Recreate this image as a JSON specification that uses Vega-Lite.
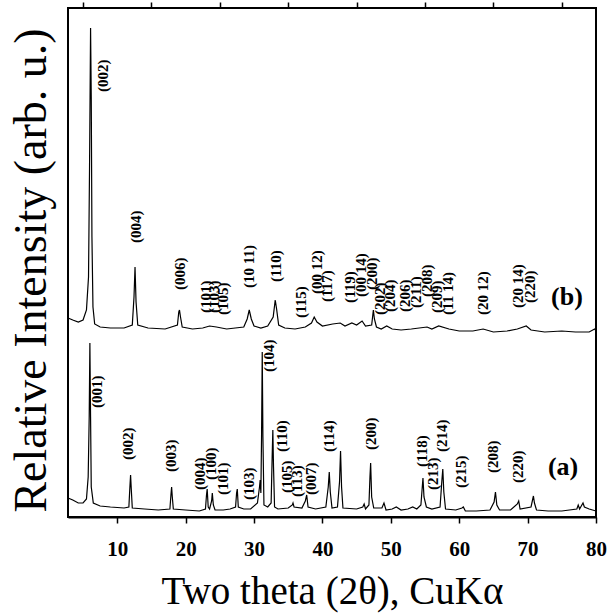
{
  "$schema": "https://vega.github.io/schema/vega-lite/v6.json",
  "width": 528,
  "height": 509,
  "autosize": "none",
  "padding": {"left": 68, "top": 8, "right": 14, "bottom": 97},
  "background": "white",
  "config": {
    "view": {"stroke": "black", "strokeWidth": 2},
    "font": "Liberation Serif"
  },
  "datasets": {
    "traces": [
      {"s": "a", "x": 2.8, "I": 19}, {"s": "a", "x": 3.5, "I": 17}, {"s": "a", "x": 4.3, "I": 14}, {"s": "a", "x": 5.0, "I": 14}, {"s": "a", "x": 5.5, "I": 18}, {"s": "a", "x": 5.75, "I": 40}, {"s": "a", "x": 5.9, "I": 100}, {"s": "a", "x": 6.0, "I": 174}, {"s": "a", "x": 6.1, "I": 100}, {"s": "a", "x": 6.2, "I": 30}, {"s": "a", "x": 6.5, "I": 14}, {"s": "a", "x": 7.5, "I": 11}, {"s": "a", "x": 9, "I": 10}, {"s": "a", "x": 11, "I": 9}, {"s": "a", "x": 11.7, "I": 10}, {"s": "a", "x": 11.85, "I": 30}, {"s": "a", "x": 11.95, "I": 42}, {"s": "a", "x": 12.05, "I": 28}, {"s": "a", "x": 12.2, "I": 9}, {"s": "a", "x": 14, "I": 8}, {"s": "a", "x": 16, "I": 7}, {"s": "a", "x": 17.7, "I": 8}, {"s": "a", "x": 17.85, "I": 22}, {"s": "a", "x": 17.95, "I": 30}, {"s": "a", "x": 18.05, "I": 20}, {"s": "a", "x": 18.2, "I": 8}, {"s": "a", "x": 20, "I": 7}, {"s": "a", "x": 22, "I": 6}, {"s": "a", "x": 22.9, "I": 8}, {"s": "a", "x": 23.05, "I": 22}, {"s": "a", "x": 23.15, "I": 28}, {"s": "a", "x": 23.3, "I": 10}, {"s": "a", "x": 23.5, "I": 8}, {"s": "a", "x": 23.8, "I": 16}, {"s": "a", "x": 23.9, "I": 24}, {"s": "a", "x": 24.05, "I": 12}, {"s": "a", "x": 24.3, "I": 7}, {"s": "a", "x": 25.5, "I": 7}, {"s": "a", "x": 26.5, "I": 8}, {"s": "a", "x": 27.3, "I": 10}, {"s": "a", "x": 27.45, "I": 24}, {"s": "a", "x": 27.55, "I": 28}, {"s": "a", "x": 27.7, "I": 10}, {"s": "a", "x": 28.5, "I": 8}, {"s": "a", "x": 29.5, "I": 8}, {"s": "a", "x": 30.5, "I": 14}, {"s": "a", "x": 30.8, "I": 30}, {"s": "a", "x": 30.9, "I": 37}, {"s": "a", "x": 31.0, "I": 24}, {"s": "a", "x": 31.1, "I": 80}, {"s": "a", "x": 31.2, "I": 165}, {"s": "a", "x": 31.3, "I": 80}, {"s": "a", "x": 31.45, "I": 12}, {"s": "a", "x": 32.0, "I": 10}, {"s": "a", "x": 32.5, "I": 14}, {"s": "a", "x": 32.65, "I": 60}, {"s": "a", "x": 32.75, "I": 87}, {"s": "a", "x": 32.85, "I": 50}, {"s": "a", "x": 33.0, "I": 10}, {"s": "a", "x": 33.5, "I": 8}, {"s": "a", "x": 35.0, "I": 9}, {"s": "a", "x": 35.6, "I": 12}, {"s": "a", "x": 35.7, "I": 14}, {"s": "a", "x": 35.85, "I": 10}, {"s": "a", "x": 37.0, "I": 9}, {"s": "a", "x": 37.5, "I": 16}, {"s": "a", "x": 37.7, "I": 22}, {"s": "a", "x": 37.9, "I": 10}, {"s": "a", "x": 39, "I": 8}, {"s": "a", "x": 40.5, "I": 10}, {"s": "a", "x": 40.85, "I": 30}, {"s": "a", "x": 41.0, "I": 45}, {"s": "a", "x": 41.15, "I": 25}, {"s": "a", "x": 41.4, "I": 9}, {"s": "a", "x": 42.2, "I": 10}, {"s": "a", "x": 42.5, "I": 35}, {"s": "a", "x": 42.65, "I": 66}, {"s": "a", "x": 42.8, "I": 30}, {"s": "a", "x": 43.0, "I": 9}, {"s": "a", "x": 45, "I": 8}, {"s": "a", "x": 45.9, "I": 10}, {"s": "a", "x": 46.1, "I": 13}, {"s": "a", "x": 46.3, "I": 8}, {"s": "a", "x": 46.8, "I": 12}, {"s": "a", "x": 46.95, "I": 40}, {"s": "a", "x": 47.05, "I": 54}, {"s": "a", "x": 47.2, "I": 20}, {"s": "a", "x": 47.5, "I": 9}, {"s": "a", "x": 48.7, "I": 9}, {"s": "a", "x": 49.0, "I": 14}, {"s": "a", "x": 49.3, "I": 7}, {"s": "a", "x": 50.2, "I": 8}, {"s": "a", "x": 50.8, "I": 10}, {"s": "a", "x": 51.5, "I": 7}, {"s": "a", "x": 52.5, "I": 8}, {"s": "a", "x": 53.2, "I": 10}, {"s": "a", "x": 53.8, "I": 8}, {"s": "a", "x": 54.4, "I": 12}, {"s": "a", "x": 54.6, "I": 30}, {"s": "a", "x": 54.7, "I": 39}, {"s": "a", "x": 54.85, "I": 20}, {"s": "a", "x": 55.2, "I": 10}, {"s": "a", "x": 56, "I": 8}, {"s": "a", "x": 57.2, "I": 10}, {"s": "a", "x": 57.45, "I": 35}, {"s": "a", "x": 57.6, "I": 48}, {"s": "a", "x": 57.75, "I": 25}, {"s": "a", "x": 58.0, "I": 8}, {"s": "a", "x": 59.5, "I": 7}, {"s": "a", "x": 60.4, "I": 9}, {"s": "a", "x": 60.6, "I": 10}, {"s": "a", "x": 60.9, "I": 6}, {"s": "a", "x": 62.5, "I": 6}, {"s": "a", "x": 64.5, "I": 7}, {"s": "a", "x": 65.1, "I": 15}, {"s": "a", "x": 65.3, "I": 25}, {"s": "a", "x": 65.5, "I": 12}, {"s": "a", "x": 65.9, "I": 7}, {"s": "a", "x": 67.5, "I": 7}, {"s": "a", "x": 68.5, "I": 13}, {"s": "a", "x": 68.7, "I": 16}, {"s": "a", "x": 68.9, "I": 8}, {"s": "a", "x": 70.5, "I": 10}, {"s": "a", "x": 70.85, "I": 21}, {"s": "a", "x": 71.0, "I": 14}, {"s": "a", "x": 71.3, "I": 7}, {"s": "a", "x": 73, "I": 6}, {"s": "a", "x": 75, "I": 6}, {"s": "a", "x": 77.2, "I": 8}, {"s": "a", "x": 77.4, "I": 12}, {"s": "a", "x": 77.6, "I": 8}, {"s": "a", "x": 78.1, "I": 14}, {"s": "a", "x": 78.3, "I": 10}, {"s": "a", "x": 79, "I": 8}, {"s": "a", "x": 80, "I": 6},
      {"s": "b", "x": 2.8, "I": 199}, {"s": "b", "x": 3.5, "I": 197}, {"s": "b", "x": 4.3, "I": 195}, {"s": "b", "x": 5.0, "I": 197}, {"s": "b", "x": 5.5, "I": 207}, {"s": "b", "x": 5.8, "I": 240}, {"s": "b", "x": 5.95, "I": 350}, {"s": "b", "x": 6.1, "I": 489}, {"s": "b", "x": 6.2, "I": 420}, {"s": "b", "x": 6.3, "I": 280}, {"s": "b", "x": 6.45, "I": 210}, {"s": "b", "x": 6.7, "I": 193}, {"s": "b", "x": 7.5, "I": 190}, {"s": "b", "x": 9, "I": 189}, {"s": "b", "x": 11, "I": 189}, {"s": "b", "x": 12.2, "I": 192}, {"s": "b", "x": 12.45, "I": 220}, {"s": "b", "x": 12.6, "I": 250}, {"s": "b", "x": 12.75, "I": 215}, {"s": "b", "x": 13.0, "I": 192}, {"s": "b", "x": 14.5, "I": 189}, {"s": "b", "x": 17, "I": 188}, {"s": "b", "x": 18.8, "I": 192}, {"s": "b", "x": 19.0, "I": 205}, {"s": "b", "x": 19.1, "I": 207}, {"s": "b", "x": 19.25, "I": 200}, {"s": "b", "x": 19.5, "I": 190}, {"s": "b", "x": 21, "I": 188}, {"s": "b", "x": 22.5, "I": 189}, {"s": "b", "x": 23.5, "I": 191}, {"s": "b", "x": 24.5, "I": 190}, {"s": "b", "x": 26, "I": 188}, {"s": "b", "x": 28.5, "I": 190}, {"s": "b", "x": 29.0, "I": 198}, {"s": "b", "x": 29.3, "I": 207}, {"s": "b", "x": 29.6, "I": 198}, {"s": "b", "x": 30.0, "I": 191}, {"s": "b", "x": 31, "I": 189}, {"s": "b", "x": 32.0, "I": 191}, {"s": "b", "x": 32.8, "I": 200}, {"s": "b", "x": 33.1, "I": 217}, {"s": "b", "x": 33.3, "I": 208}, {"s": "b", "x": 33.6, "I": 192}, {"s": "b", "x": 34.5, "I": 189}, {"s": "b", "x": 36, "I": 188}, {"s": "b", "x": 37.5, "I": 190}, {"s": "b", "x": 38.4, "I": 194}, {"s": "b", "x": 38.8, "I": 200}, {"s": "b", "x": 39.2, "I": 195}, {"s": "b", "x": 40, "I": 191}, {"s": "b", "x": 41.5, "I": 193}, {"s": "b", "x": 42.6, "I": 194}, {"s": "b", "x": 43.3, "I": 191}, {"s": "b", "x": 44.3, "I": 194}, {"s": "b", "x": 45.0, "I": 192}, {"s": "b", "x": 45.8, "I": 196}, {"s": "b", "x": 46.3, "I": 191}, {"s": "b", "x": 47.2, "I": 192}, {"s": "b", "x": 47.45, "I": 207}, {"s": "b", "x": 47.6, "I": 198}, {"s": "b", "x": 47.9, "I": 190}, {"s": "b", "x": 48.6, "I": 188}, {"s": "b", "x": 49.4, "I": 191}, {"s": "b", "x": 50.2, "I": 188}, {"s": "b", "x": 51.5, "I": 187}, {"s": "b", "x": 53, "I": 188}, {"s": "b", "x": 55.3, "I": 190}, {"s": "b", "x": 56, "I": 188}, {"s": "b", "x": 57.0, "I": 191}, {"s": "b", "x": 58.5, "I": 188}, {"s": "b", "x": 60, "I": 186}, {"s": "b", "x": 62, "I": 186}, {"s": "b", "x": 63.5, "I": 188}, {"s": "b", "x": 65, "I": 185}, {"s": "b", "x": 67, "I": 186}, {"s": "b", "x": 68.5, "I": 188}, {"s": "b", "x": 69.8, "I": 191}, {"s": "b", "x": 70.5, "I": 187}, {"s": "b", "x": 72.5, "I": 185}, {"s": "b", "x": 75, "I": 186}, {"s": "b", "x": 77, "I": 185}, {"s": "b", "x": 79, "I": 185}, {"s": "b", "x": 79.8, "I": 188}, {"s": "b", "x": 80, "I": 186}
    ],
    "peaks": [
      {"label": "(002)", "x": 7.87, "I": 425}, {"label": "(004)", "x": 12.74, "I": 274}, {"label": "(006)", "x": 19.18, "I": 227}, {"label": "(101)", "x": 22.98, "I": 204}, {"label": "(103)", "x": 24.19, "I": 204}, {"label": "(105)", "x": 25.51, "I": 202}, {"label": "(10 11)", "x": 29.31, "I": 229}, {"label": "(110)", "x": 33.21, "I": 235}, {"label": "(115)", "x": 36.8, "I": 199}, {"label": "(00 12)", "x": 39.14, "I": 223}, {"label": "(117)", "x": 40.63, "I": 215}, {"label": "(119)", "x": 44.03, "I": 214}, {"label": "(00 14)", "x": 45.6, "I": 220}, {"label": "(200)", "x": 47.21, "I": 227}, {"label": "(202)", "x": 48.42, "I": 202}, {"label": "(204)", "x": 49.88, "I": 205}, {"label": "(206)", "x": 52.08, "I": 205}, {"label": "(211)", "x": 53.68, "I": 209}, {"label": "(208)", "x": 55.25, "I": 220}, {"label": "(209)", "x": 56.71, "I": 204}, {"label": "(11 14)", "x": 58.41, "I": 202}, {"label": "(20 12)", "x": 63.44, "I": 202}, {"label": "(20 14)", "x": 68.56, "I": 209}, {"label": "(220)", "x": 70.35, "I": 214},
      {"label": "(001)", "x": 7.08, "I": 109}, {"label": "(002)", "x": 11.62, "I": 57}, {"label": "(003)", "x": 17.86, "I": 45}, {"label": "(004)", "x": 22.1, "I": 27}, {"label": "(100)", "x": 23.67, "I": 37}, {"label": "(101)", "x": 25.51, "I": 22}, {"label": "(103)", "x": 29.31, "I": 17}, {"label": "(104)", "x": 32.23, "I": 145}, {"label": "(110)", "x": 34.05, "I": 65}, {"label": "(105)", "x": 34.78, "I": 24}, {"label": "(113)", "x": 36.33, "I": 20}, {"label": "(007)", "x": 38.29, "I": 22}, {"label": "(114)", "x": 40.96, "I": 65}, {"label": "(200)", "x": 47.11, "I": 67}, {"label": "(118)", "x": 54.52, "I": 50}, {"label": "(213)", "x": 56.13, "I": 27}, {"label": "(214)", "x": 57.44, "I": 65}, {"label": "(215)", "x": 60.22, "I": 29}, {"label": "(208)", "x": 64.99, "I": 44}, {"label": "(220)", "x": 68.64, "I": 34}
    ],
    "names": [
      {"label": "(b)", "x": 75.76, "I": 220},
      {"label": "(a)", "x": 75.18, "I": 50}
    ]
  },
  "resolve": {"axis": {"x": "independent"}},
  "layer": [
    {
      "data": {"name": "traces"},
      "mark": {"type": "line", "color": "black", "strokeWidth": 1.2, "interpolate": "linear"},
      "encoding": {
        "x": {
          "field": "x", "type": "quantitative",
          "scale": {"domain": [2.8, 80], "nice": false, "zero": false},
          "axis": {
            "title": "Two theta (2θ), CuKα",
            "titleFont": "Liberation Serif", "titleFontSize": 39, "titleFontWeight": "normal", "titleColor": "black",
            "titleBaseline": "alphabetic", "titleY": 86,
            "values": [10, 20, 30, 40, 50, 60, 70, 80],
            "labelFont": "Liberation Serif", "labelFontSize": 21, "labelFontWeight": "bold", "labelColor": "black",
            "labelPadding": 15, "labelFlush": false, "labelOverlap": false,
            "tickSize": 6, "tickWidth": 1.5, "tickColor": "black",
            "domainColor": "black", "domainWidth": 2, "grid": false
          }
        },
        "y": {
          "field": "I", "type": "quantitative",
          "scale": {"domain": [0, 509], "nice": false, "zero": false},
          "axis": {
            "title": "Relative Intensity (arb. u.)",
            "titleFont": "Liberation Serif", "titleFontSize": 46, "titleFontWeight": "normal", "titleColor": "black",
            "titleX": -37, "titleY": 262, "titleAngle": 270, "titleAlign": "center", "titleBaseline": "middle",
            "labels": false, "ticks": false, "grid": false, "domain": false
          }
        },
        "detail": {"field": "s", "type": "nominal"}
      }
    },
    {
      "data": {"name": "peaks"},
      "mark": {"type": "text", "angle": 270, "align": "left", "baseline": "middle", "font": "Liberation Serif", "fontSize": 15, "fontWeight": "bold", "color": "black"},
      "encoding": {
        "x": {"field": "x", "type": "quantitative", "axis": null},
        "y": {"field": "I", "type": "quantitative"},
        "text": {"field": "label", "type": "nominal"}
      }
    },
    {
      "data": {"name": "names"},
      "mark": {"type": "text", "align": "center", "baseline": "middle", "font": "Liberation Serif", "fontSize": 26, "fontWeight": "bold", "color": "black"},
      "encoding": {
        "x": {
          "field": "x", "type": "quantitative",
          "axis": {
            "title": null, "values": [5, 15, 25, 35, 45, 55, 65, 75],
            "labels": false, "domain": false, "grid": false,
            "tickSize": 6, "tickWidth": 1.5, "tickColor": "black"
          }
        },
        "y": {"field": "I", "type": "quantitative"},
        "text": {"field": "label", "type": "nominal"}
      }
    }
  ]
}
